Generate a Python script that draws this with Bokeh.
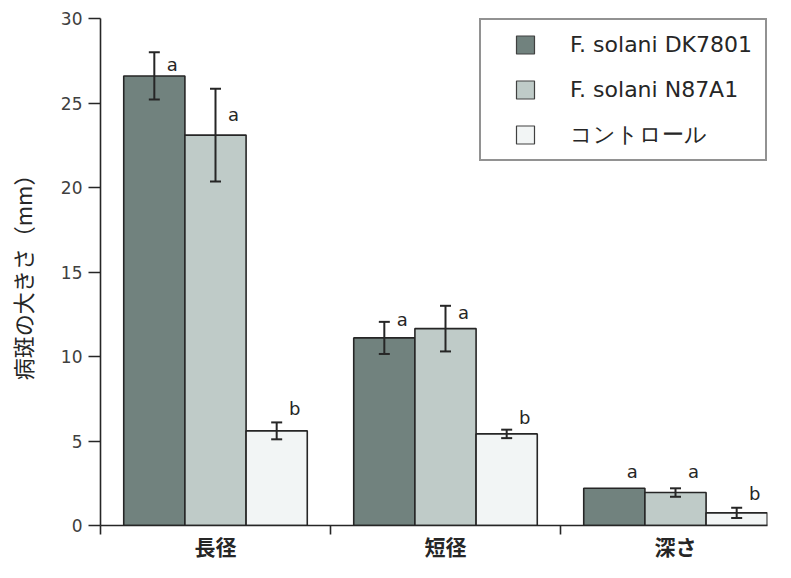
from bokeh.plotting import figure
from bokeh.models import (ColumnDataSource, FixedTicker, Whisker, TeeHead,
                          Legend, LegendItem)
from bokeh.core.properties import value
from bokeh.embed import file_html
from bokeh.resources import INLINE

# ---- data ----
categories = ["長径", "短径", "深さ"]
series = ["F. solani DK7801", "F. solani N87A1", "コントロール"]
dk7801 = [26.6, 11.1, 2.2]
dk7801_err = [1.4, 0.95, 0.0]
n87a1 = [23.1, 11.65, 1.95]
n87a1_err = [2.75, 1.35, 0.25]
control = [5.6, 5.42, 0.75]
control_err = [0.5, 0.25, 0.3]
letters_dk = ["a", "a", "a"]
letters_n87 = ["a", "a", "a"]
letters_ctl = ["b", "b", "b"]
letter_y_dk = [27.3, 12.2, 3.2]
letter_y_n87 = [24.3, 12.6, 3.2]
letter_y_ctl = [6.9, 6.4, 1.9]
y_ticks = [0, 5, 10, 15, 20, 25, 30]
y_label = "病斑の大きさ（mm）"

colors = ["#71827e", "#bfcbc8", "#f2f5f5"]
bar_w = 0.266
offsets = [-bar_w, 0.0, bar_w]

p = figure(width=775, height=562, x_range=(0, 2.9), y_range=(0, 30),
           output_backend="svg", toolbar_location=None,
           min_border_left=100, min_border_right=8, min_border_top=18,
           min_border_bottom=27)
p.outline_line_color = None
p.grid.visible = False
p.background_fill_color = "white"
p.border_fill_color = "white"

vals = [dk7801, n87a1, control]
errs = [dk7801_err, n87a1_err, control_err]
letters = [letters_dk, letters_n87, letters_ctl]
letter_ys = [letter_y_dk, letter_y_n87, letter_y_ctl]

legend_items = []
for k in range(3):
    xs = [i + 0.5 + offsets[k] for i in range(len(categories))]
    src = ColumnDataSource(dict(x=xs, top=vals[k], lab=letters[k], ly=letter_ys[k]))
    p.vbar(x="x", top="top", width=bar_w, bottom=0, source=src,
           fill_color=colors[k], line_color="#262626", line_width=1.6)
    err_src = ColumnDataSource(dict(
        x=[x for x, e in zip(xs, errs[k]) if e > 0],
        upper=[v + e for v, e in zip(vals[k], errs[k]) if e > 0],
        lower=[v - e for v, e in zip(vals[k], errs[k]) if e > 0]))
    w = Whisker(base="x", upper="upper", lower="lower", source=err_src,
                level="annotation",
                line_color="#262626", line_width=2,
                upper_head=TeeHead(size=11, line_color="#262626", line_width=2),
                lower_head=TeeHead(size=11, line_color="#262626", line_width=2))
    p.add_layout(w)
    p.text(x="x", y="ly", text="lab", source=src, x_offset=18,
           text_align="center", text_baseline="middle",
           text_font=value("DejaVu Sans"), text_font_size="18px",
           text_color="#262626")
    # legend marker renderer (no visible data point)
    r = p.scatter(x=[float("nan")], y=[float("nan")], marker="square", size=19,
                  fill_color=colors[k], line_color="#404040", line_width=1.2)
    legend_items.append(LegendItem(label=series[k], renderers=[r]))

legend = Legend(items=legend_items, location="top_right", margin=0,
                padding=2, spacing=0, glyph_width=84, glyph_height=45,
                label_standoff=3, label_width=193,
                label_text_font="DejaVu Sans", label_text_font_size="22px",
                label_text_color="#262626",
                border_line_color="#262626", border_line_width=2,
                background_fill_color="white", background_fill_alpha=1.0)
p.add_layout(legend)

# y axis
p.yaxis.ticker = FixedTicker(ticks=y_ticks)
p.yaxis.axis_label = y_label
p.yaxis.axis_label_text_font = "Noto Sans CJK JP"
p.yaxis.axis_label_text_font_size = "22px"
p.yaxis.axis_label_text_font_style = "normal"
p.yaxis.axis_label_text_color = "#262626"
p.yaxis.axis_label_standoff = 20
p.yaxis.major_label_text_font = "DejaVu Sans"
p.yaxis.major_label_text_font_size = "17px"
p.yaxis.major_label_text_color = "#404040"
p.yaxis.major_label_standoff = 6
p.yaxis.major_tick_out = 12
p.yaxis.major_tick_in = 0
p.yaxis.minor_tick_line_color = None
p.yaxis.axis_line_width = 1.6
p.yaxis.major_tick_line_width = 1.4
p.yaxis.axis_line_color = "#262626"
p.yaxis.major_tick_line_color = "#262626"

# x axis: category names at group centres, separator ticks as minor ticks
centers = [i + 0.5 for i in range(len(categories))]
p.xaxis.ticker = FixedTicker(ticks=centers,
                             minor_ticks=list(range(len(categories))))
p.xaxis.major_label_overrides = {c: lab for c, lab in zip(centers, categories)}
p.xaxis.major_tick_out = 0
p.xaxis.major_tick_in = 0
p.xaxis.major_tick_line_color = None
p.xaxis.minor_tick_out = 9
p.xaxis.minor_tick_in = 0
p.xaxis.minor_tick_line_width = 1.6
p.xaxis.minor_tick_line_color = "#262626"
p.xaxis.axis_line_width = 1.6
p.xaxis.axis_line_color = "#262626"
p.xaxis.major_label_text_font = "DejaVu Sans, Noto Sans CJK JP"
p.xaxis.major_label_text_font_size = "21px"
p.xaxis.major_label_text_font_style = "bold"
p.xaxis.major_label_text_color = "#262626"
p.xaxis.major_label_standoff = 1

open("out.html", "w").write(file_html(p, INLINE))
